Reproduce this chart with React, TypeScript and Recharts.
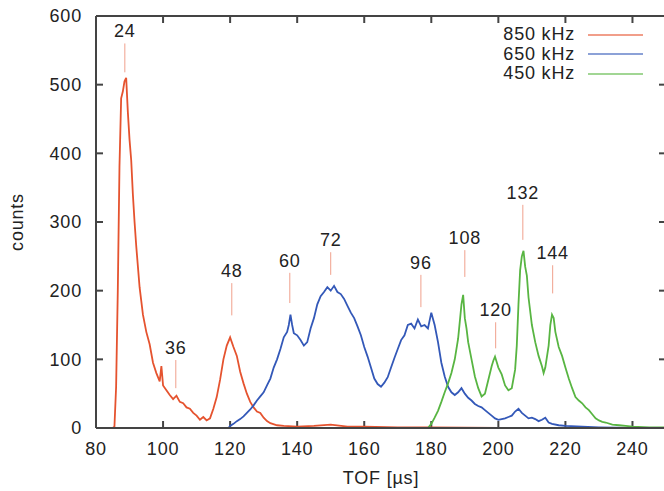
import React from 'react';
import { LineChart, Line, XAxis, YAxis, ReferenceLine } from 'recharts';

// time of flight (µs) and counts
const tof850 = [84, 85, 85.5, 86, 86.5, 87, 87.5, 88, 88.5, 89, 89.5, 90, 90.5, 91, 91.5, 92, 92.5, 93, 93.5, 94, 95, 96, 97, 98, 99, 99.5, 100, 101, 102, 103, 104, 105, 106, 107, 108, 109, 110, 111, 112, 113, 114, 115, 116, 117, 118, 119, 120, 121, 122, 123, 124, 125, 126, 127, 128, 129, 130, 131, 132, 134, 136, 140, 145, 150, 155, 160, 170, 180, 200, 220, 250];
const counts850 = [0, 0, 2, 60, 200, 380, 480, 490, 505, 510, 460, 420, 390, 340, 300, 265, 235, 205, 185, 165, 140, 122, 95, 80, 68, 90, 62, 55, 48, 42, 47, 38, 36, 30, 28, 22, 18, 12, 16, 11, 14, 28, 45, 70, 100, 120, 132, 118, 105, 82, 65, 50, 38, 30, 24, 22, 15, 10, 7, 4, 3, 2, 3, 5, 2, 2, 1, 1, 0, 0, 0];

const tof650 = [119.5, 120, 121, 122, 123, 124, 125, 126, 127, 128, 129, 130, 131, 132, 133, 134, 135, 136, 137, 137.5, 138, 138.5, 139, 140, 141, 142, 143, 144, 145, 146, 147, 148, 149, 150, 151, 152, 153, 154, 155, 156, 157, 158, 159, 160, 161, 162, 163, 164, 165, 166, 167, 168, 169, 170, 171, 172, 173, 174, 175, 176, 177, 178, 179, 180, 181, 182, 183, 184, 185, 186, 187, 188, 189, 190, 191, 192, 193, 194, 195, 196, 197, 198, 199, 200, 201, 202, 203, 204, 205, 206, 207, 208, 209, 210, 211, 212, 213, 214, 215, 216, 218, 220, 225, 230, 240, 250];
const counts650 = [0, 3, 6, 10, 13, 17, 22, 27, 33, 40, 46, 52, 62, 72, 88, 100, 115, 132, 140, 150, 165, 150, 138, 135, 128, 120, 125, 145, 160, 180, 192, 198, 205, 200, 207, 198, 195, 188, 178, 168, 160, 148, 135, 118, 104, 88, 72, 64, 60, 66, 74, 88, 102, 115, 128, 135, 150, 152, 145, 158, 148, 150, 145, 168, 150, 125, 95, 75, 60, 52, 48, 52, 58, 50, 44, 40, 35, 32, 30, 26, 22, 18, 14, 12, 13, 14, 16, 18, 24, 28, 22, 18, 14, 15, 13, 10, 12, 15, 8, 6, 4, 3, 2, 1, 0, 0];

const tof450 = [179, 180, 181, 182, 183, 184, 185, 186, 187, 188, 188.5, 189, 189.5, 190, 190.5, 191, 192, 193, 194, 195, 196, 197, 198, 198.5, 199, 199.5, 200, 201, 202, 203, 204, 205, 205.5, 206, 206.5, 207, 207.5, 208, 208.5, 209, 210, 211, 212, 213, 213.5, 214, 215, 215.5, 216, 216.5, 217, 218, 219, 220, 221, 222, 223, 224, 225, 226, 227, 228, 229, 230, 231, 232, 234, 236, 238, 240, 245, 250];
const counts450 = [0, 6, 15, 25, 38, 52, 65, 80, 100, 130, 155, 180, 194, 160, 145, 125, 100, 75, 58, 46, 50, 70, 90, 98, 104, 96, 88, 78, 62, 55, 58, 85, 120, 180, 230, 250, 258, 235, 222, 190, 150, 125, 105, 90, 80, 88, 120, 150, 165, 160, 140, 118, 105, 88, 72, 58, 45, 40, 36, 30, 26, 20, 14, 11, 9, 8, 5, 4, 3, 2, 1, 1];

// peak annotations: label, position and extent of the marker line
const annLabels = ['24', '36', '48', '60', '72', '96', '108', '120', '132', '144'];
const annTof = [88.6, 103.8, 120.5, 137.8, 150, 176.9, 190, 199.2, 207.3, 216.2];
const annLow = [518, 58, 164, 182, 223, 176, 220, 116, 274, 196];
const annHigh = [560, 99, 211, 226, 256, 223, 259, 154, 325, 237];

const xTicks = [80, 100, 120, 140, 160, 180, 200, 220, 240];
const yTicks = [0, 100, 200, 300, 400, 500, 600];

const series = [
  { name: '850 kHz', color: '#e5532f', tof: tof850, counts: counts850 },
  { name: '650 kHz', color: '#3358b8', tof: tof650, counts: counts650 },
  { name: '450 kHz', color: '#58b542', tof: tof450, counts: counts450 },
];

const X_DOMAIN = [80, 250];
const Y_DOMAIN = [0, 600];
const PLOT_W = 570;
const PLOT_H = 412;
// inward tick length of 7px, in data units
const TX = (7 * (X_DOMAIN[1] - X_DOMAIN[0])) / PLOT_W;
const TY = (7 * (Y_DOMAIN[1] - Y_DOMAIN[0])) / PLOT_H;

// tick mark segments for all four sides of the frame
const tickSegments = [
  ...xTicks.map((t) => [{ x: t, y: 0 }, { x: t, y: TY }]),
  ...xTicks.map((t) => [{ x: t, y: 600 }, { x: t, y: 600 - TY }]),
  ...yTicks.map((v) => [{ x: 80, y: v }, { x: 80 + TX, y: v }]),
  ...yTicks.map((v) => [{ x: 250, y: v }, { x: 250 - TX, y: v }]),
];

const FONT = '"Liberation Sans", Arial, sans-serif';
const TEXT = { fontFamily: FONT, fontSize: 18, letterSpacing: 0.8, fill: '#222' };
const AXIS = '#444';

const CountsLabel = () => (
  <text x={23} y={222} transform="rotate(-90 23 222)" textAnchor="middle" fontFamily={FONT} fontSize={18} letterSpacing={0.8} fill="#222">
    counts
  </text>
);

function LegendBox() {
  return (
    <div style={{ position: 'absolute', left: 443, top: 25, width: 200, fontFamily: FONT, fontSize: 18, letterSpacing: 0.8, color: '#222' }}>
      {series.map((s) => (
        <div key={s.name} style={{ display: 'flex', justifyContent: 'flex-end', alignItems: 'center', height: 19.5 }}>
          <span>{s.name}</span>
          <svg width={55} height={4} style={{ marginLeft: 13 }}>
            <line x1={0} y1={2} x2={55} y2={2} stroke={s.color} strokeWidth={1.5} strokeOpacity={0.75} />
          </svg>
        </div>
      ))}
    </div>
  );
}

export default function App() {
  return (
    <div style={{ position: 'absolute', left: 0, top: 0, width: 664, height: 491, overflow: 'hidden', background: '#fff' }}>
      <LineChart width={672} height={491} margin={{ top: 16, right: 6, bottom: 0, left: 0 }}>
        <XAxis
          dataKey="t"
          type="number"
          domain={X_DOMAIN}
          allowDataOverflow
          ticks={xTicks}
          height={63}
          tickSize={0}
          tickLine={false}
          tickMargin={14}
          tick={TEXT}
          stroke={AXIS}
          strokeWidth={2}
          label={{ value: 'TOF [µs]', position: 'insideBottom', offset: 7, style: TEXT }}
        />
        <YAxis
          type="number"
          domain={Y_DOMAIN}
          ticks={yTicks}
          width={96}
          tickSize={0}
          tickLine={false}
          tickMargin={14}
          tick={TEXT}
          stroke={AXIS}
          strokeWidth={2}
          label={<CountsLabel />}
        />
        {/* frame: top and right borders */}
        <ReferenceLine y={600} stroke={AXIS} strokeWidth={2} ifOverflow="visible" />
        <ReferenceLine x={250} stroke={AXIS} strokeWidth={2} ifOverflow="visible" />
        {tickSegments.map((seg, i) => (
          <ReferenceLine key={`tick-${i}`} segment={seg} stroke={AXIS} strokeWidth={2} />
        ))}
        {annLabels.map((lab, i) => (
          <ReferenceLine
            key={lab}
            segment={[{ x: annTof[i], y: annLow[i] }, { x: annTof[i], y: annHigh[i] }]}
            stroke="#f0a08c"
            strokeWidth={1}
            label={{ value: lab, position: 'top', offset: 6, ...TEXT }}
          />
        ))}
        {series.map((s) => (
          <Line
            key={s.name}
            name={s.name}
            data={s.tof.map((t, i) => ({ t, c: s.counts[i] }))}
            dataKey="c"
            type="linear"
            stroke={s.color}
            strokeWidth={1.8}
            dot={false}
            isAnimationActive={false}
          />
        ))}
      </LineChart>
      <LegendBox />
    </div>
  );
}
